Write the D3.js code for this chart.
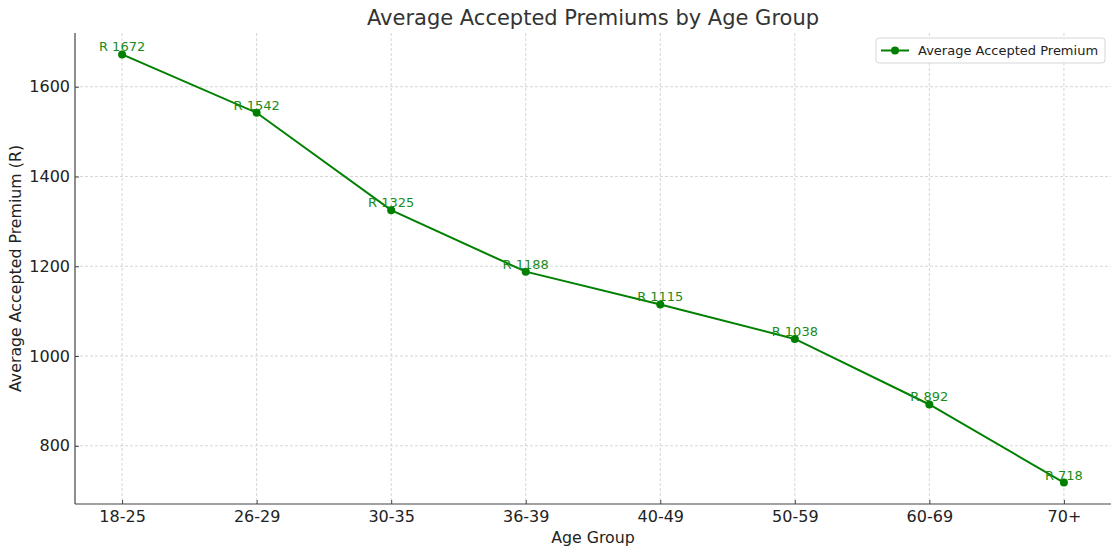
<!DOCTYPE html>
<html><head><meta charset="utf-8">
<script src="https://cdn.jsdelivr.net/npm/d3@7"></script>
<style>body{margin:0;background:#fff}svg{display:block}text{font-family:"DejaVu Sans",sans-serif}</style>
</head><body>
<script>
const categories = ["18-25","26-29","30-35","36-39","40-49","50-59","60-69","70+"];
const premiums = [1672,1542,1325,1188,1115,1038,892,718];
const yTicks = [800,1000,1200,1400,1600];
const labelPrefix = "R ";
const title = "Average Accepted Premiums by Age Group";
const xTitle = "Age Group";
const yTitle = "Average Accepted Premium (R)";
const seriesName = "Average Accepted Premium";

const W = 1120, H = 555;
const m = {l:75, r:9, t:33, b:51};
const svg = d3.select("body").append("svg").attr("width",W).attr("height",H);
const iw = W-m.l-m.r, ih = H-m.t-m.b;
const g = svg.append("g").attr("transform",`translate(${m.l},${m.t})`);

const pad = 0.05*(categories.length-1);
const xi = d3.scaleLinear().domain([-pad, categories.length-1+pad]).range([0,iw]);
const lo = d3.min(premiums), hi = d3.max(premiums), sp = (hi-lo)*0.05;
const y = d3.scaleLinear().domain([lo-sp, hi+sp]).range([ih,0]);

// grid
g.append("g").selectAll("line").data(yTicks).join("line")
  .attr("x1",0).attr("x2",iw).attr("y1",d=>y(d)).attr("y2",d=>y(d))
  .attr("stroke","#cccccc").attr("stroke-width",0.8).attr("stroke-dasharray","3,2");
g.append("g").selectAll("line").data(categories).join("line")
  .attr("x1",(d,i)=>xi(i)).attr("x2",(d,i)=>xi(i)).attr("y1",0).attr("y2",ih)
  .attr("stroke","#cccccc").attr("stroke-width",0.8).attr("stroke-dasharray","3,2");

// axes (ticks point inward)
const xAxis = d3.axisBottom(xi).tickValues(d3.range(categories.length)).tickFormat(i=>categories[i]).tickSize(-4).tickPadding(7).tickSizeOuter(0);
const gx = g.append("g").attr("transform",`translate(0,${ih})`).call(xAxis);
const yAxis = d3.axisLeft(y).tickValues(yTicks).tickFormat(d3.format("d")).tickSize(-4).tickPadding(5).tickSizeOuter(0);
const gy = g.append("g").call(yAxis);
[gx,gy].forEach(a=>{
  a.select(".domain").attr("stroke","#444").attr("stroke-width",1.2);
  a.selectAll(".tick line").attr("stroke","#444");
  a.selectAll(".tick text").attr("fill","#222").style("font-size","16px").style("font-family","DejaVu Sans");
});
gx.select(".domain").attr("d",`M0,0H${iw}`);
gy.select(".domain").attr("d",`M0,0V${ih}`);

// line
const line = d3.line().x((d,i)=>xi(i)).y(d=>y(d));
g.append("path").datum(premiums).attr("d",line).attr("fill","none").attr("stroke","#008000").attr("stroke-width",2);
g.append("g").selectAll("circle").data(premiums).join("circle")
  .attr("cx",(d,i)=>xi(i)).attr("cy",d=>y(d)).attr("r",4).attr("fill","#008000");
g.append("g").selectAll("text").data(premiums).join("text")
  .attr("x",(d,i)=>xi(i)).attr("y",d=>y(d)-3).attr("text-anchor","middle")
  .attr("fill","#1a8c1a").style("font-size","13px")
  .text(d=>labelPrefix+d);

// titles
svg.append("text").attr("x",m.l+iw/2).attr("y",25).attr("text-anchor","middle")
  .attr("fill","#333").style("font-size","21px").text(title);
svg.append("text").attr("x",m.l+iw/2).attr("y",543).attr("text-anchor","middle")
  .attr("fill","#222").style("font-size","15.8px").text(xTitle);
svg.append("text").attr("transform",`translate(21,${m.t+ih/2}) rotate(-90)`).attr("text-anchor","middle")
  .attr("fill","#222").style("font-size","15.8px").text(yTitle);

// legend
const lg = svg.append("g").attr("transform","translate(876,38)");
lg.append("rect").attr("width",229).attr("height",25).attr("rx",3).attr("fill","#fff").attr("fill-opacity",0.8).attr("stroke","#d6d6d6");
lg.append("line").attr("x1",5).attr("x2",33).attr("y1",12.5).attr("y2",12.5).attr("stroke","#008000").attr("stroke-width",2);
lg.append("circle").attr("cx",19).attr("cy",12.5).attr("r",4).attr("fill","#008000");
lg.append("text").attr("x",42).attr("y",17).attr("fill","#222").style("font-size","13px").text(seriesName);
</script>
</body></html>
